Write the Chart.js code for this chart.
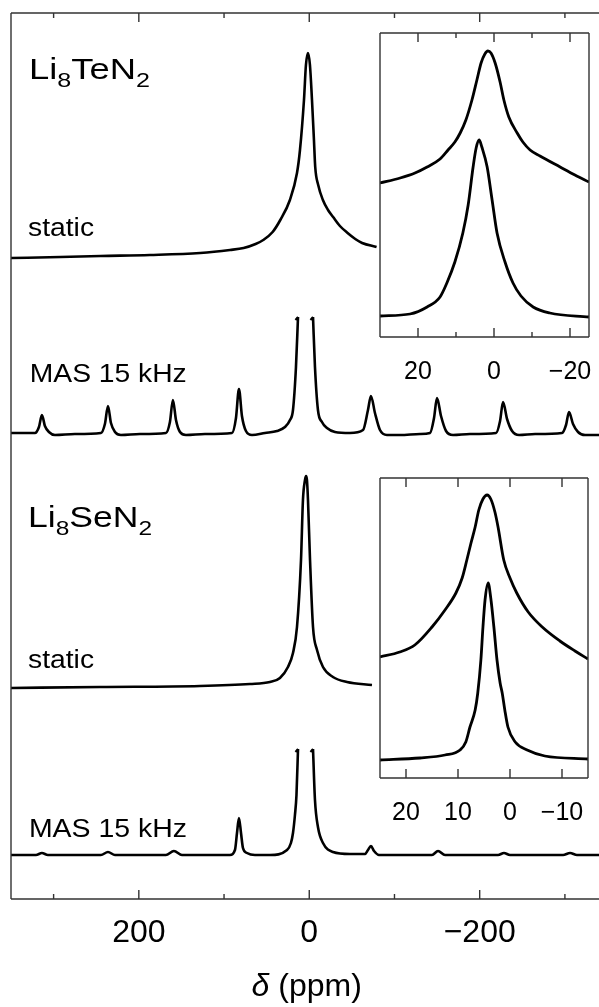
<!DOCTYPE html>
<html>
<head>
<meta charset="utf-8">
<script src="https://cdn.jsdelivr.net/npm/chart.js@4.4.1/dist/chart.umd.min.js"></script>
<style>
  body { margin: 0; background: #fff; }
  #wrap { position: relative; width: 599px; height: 1007px; overflow: hidden; }
  canvas { position: absolute; }
</style>
</head>
<body>
<div id="wrap">
  <canvas id="main" width="599" height="1007" style="left:0;top:0"></canvas>
  <canvas id="insetTe" width="217" height="358" style="left:376px;top:29px"></canvas>
  <canvas id="insetSe" width="216" height="354" style="left:376px;top:474px"></canvas>
</div>
<script>
// ---- data (ppm, intensity above each trace's own baseline) ----
var teStaticPpm = [350, 292, 245, 187, 128, 93, 77, 63, 54, 43, 34, 22.7, 14.4, 10.9, 6.2, 3.9, 1.5, -0.8, -3.2, -5.5, -7, -10.5, -16, -22, -28, -36, -45, -54, -62, -79];
var teStaticInt = [0, 1, 2, 3, 5, 8, 10, 14, 18, 26, 38, 58, 85, 108, 158, 193, 205, 193, 158, 118, 91, 73, 58, 48, 41, 32, 25, 19, 15, 11];

var teMasPpm = [350, 321.9, 317.2, 313.7, 310.2, 305.5, 298.4, 275, 244.5, 239.8, 236.2, 232.7, 228, 221, 198.7,
  168.2, 163.5, 160, 156.4, 151.7, 144.7, 122.4, 90.7, 86, 82.5, 79, 74.3, 67.2, 52, 37.9, 28.5, 22.6, 19.1, 15.6, 13.2,
  4.4,
  -4.4, -6.7, -10.2, -14.9, -20.8, -30.2, -47.8, -63.1, -68.9, -72.4, -77.1, -83, -91.2, -106.5, -130,
  -141.7, -146.4, -149.9, -154.6, -160.5, -168.7, -188.6, -219.2, -223.9, -227.4, -232.1, -238, -246.2, -265,
  -296.6, -301.3, -304.8, -309.5, -315.4, -323.6, -340];
var teMasInt = [0, 0, 6, 18, 7, 1, -2, -1, 0, 9, 27, 10, 1, -2, -1,
  0, 11, 33, 13, 1, -2, -1, 0, 15, 44, 17, 2, -2, 0, 2, 6, 13, 23, 66, 116,
  null,
  116, 66, 23, 11, 5, 1, 0, 3, 23, 37, 20, 3, -2, -2, -1,
  0, 15, 35, 17, 2, -2, -1, 0, 12, 31, 14, 2, -2, -1,
  0, 8, 21, 9, 1, -2, -2];

var seStaticPpm = [350, 245.6, 128.3, 69.6, 46.1, 34.4, 25, 19.1, 14.4, 9.7, 7.4, 5.0, 3.8, 2.7, 1.5, -0.9, -4.4, -9.1, -16.1, -27.8, -44.3, -73.6];
var seStaticInt = [0, 1, 2, 4, 6, 10, 21, 35, 61, 128, 188, 208, 212, 208, 188, 128, 61, 38, 21, 11, 6, 3];

var seMasPpm = [350, 320.7, 313.7, 306.7, 244.5, 236.2, 228, 168.2, 158.8, 149.4, 93.1, 87.2, 84.8, 82.5, 80.1, 77.8, 73.1, 63.7,
  46.1, 26.1, 21.5, 19.1, 16.8, 15, 13.2,
  4.4,
  -4.4, -6.7, -10.2, -16.1, -27.8, -47.8, -65.4, -68.9, -72.4, -76, -81.8, -106.5, -144, -151.1, -159.3,
  -221.5, -228.5, -235.6, -297.8, -306, -314.2, -340];
var seMasInt = [0, 0, 2, 0, 0, 3, 0, 0, 4, 0, 0, 5, 22, 37, 22, 7, 2, 0,
  0, 5, 12, 22, 40, 60, 106,
  null,
  106, 55, 28, 12, 3, 1, 1, 5, 9, 4, 0, 0, 0, 4, 0,
  0, 2, 0, 0, 2, 0, 0];

// break marks on the clipped centre bands [ppm, intensity]
var teBreakLeft = [[13.2, 116], [16.2, 113]];
var teBreakRight = [[-4.4, 116], [-1.4, 113]];
var seBreakLeft = [[13.2, 106], [16.2, 103]];
var seBreakRight = [[-4.4, 106], [-1.4, 103]];

// insets
var teInStaticPpm = [30, 24.7, 20.8, 17.6, 14.2, 12.1, 10.3, 8.9, 7.4, 5.8, 4.5, 3.4, 2.4, 1.6, 0.8, -0.3, -1.6, -2.6, -3.9, -6.1, -7.6, -9.5, -12.1, -17.4, -21.3, -25];
var teInStaticInt = [154, 159, 164, 170, 178, 187, 195, 204, 217, 237, 257, 274, 283, 286, 284, 274, 255, 237, 220, 204, 195, 187, 181, 170, 162, 155];
var teInMasPpm = [30, 22.1, 17.6, 14.2, 12.4, 10.3, 8.2, 6.8, 5.5, 4.7, 3.9, 3.2, 1.8, 0.5, -0.8, -2.9, -5, -7.1, -10.3, -14.7, -25];
var teInMasInt = [21, 23, 30, 40, 54, 75, 104, 132, 170, 189, 197, 190, 170, 137, 104, 75, 54, 41, 30, 24, 20];

var seInStaticPpm = [25, 21.2, 18.3, 15, 12.5, 10.4, 9.2, 8.3, 7.5, 6.7, 6.0, 5.2, 4.4, 3.7, 2.9, 2.3, 1.2, 0, -1.3, -3.5, -6.2, -9.6, -12.5, -15];
var seInStaticInt = [121, 126, 133, 151, 168, 185, 200, 218, 235, 251, 268, 279, 283, 279, 266, 251, 218, 200, 185, 166, 151, 137, 127, 119];
var seInMasPpm = [25, 17.3, 12.5, 9.6, 8.5, 7.7, 6.7, 6.2, 5.6, 5.2, 4.8, 4.2, 3.7, 3.1, 2.5, 1.9, 1.5, 1.0, 0.4, -1, -3.3, -6.7, -15];
var seInMasInt = [18, 20, 23, 28, 36, 51, 68, 85, 118, 151, 178, 195, 180, 151, 118, 95, 85, 68, 51, 36, 28, 22, 19];

// ticks
var mainTickLabels = [200, 0, -200];
var mainMinorTicks = [300, 100, -100, -300];
var teInTickLabels = [20, 0, -20];
var teInMinorTicks = [10, -10];
var seInTickLabels = [20, 10, 0, -10];

// vertical stacking of the four main traces
var offsets = { teStatic: 641, teMas: 466, seStatic: 211, seMas: 44 };

var FONT = "'Liberation Sans', Arial, Helvetica, sans-serif";

function toPoints(ppm, vals, off) {
  return ppm.map(function(p, i) {
    return { x: p, y: vals[i] === null ? null : vals[i] + (off || 0) };
  });
}
function pairPoints(pairs, off) {
  return pairs.map(function(p) { return { x: p[0], y: p[1] + off }; });
}
function minus(v) { return v < 0 ? '\u2212' + Math.abs(v) : String(v); }

function trace(data, w) {
  return { data: data, showLine: true, borderColor: '#000', borderWidth: w || 2.6, pointRadius: 0,
           cubicInterpolationMode: 'monotone', spanGaps: false };
}
function mark(data) {
  return { data: data, showLine: true, borderColor: '#000', borderWidth: 2, pointRadius: 0, tension: 0 };
}

// frame + inward ticks drawn from the x scale
var frameTicks = {
  id: 'frameTicks',
  beforeDatasetsDraw: function(chart, args, o) {
    if (!o.fill) return;
    var a = chart.chartArea, ctx = chart.ctx;
    ctx.save(); ctx.fillStyle = '#fff';
    ctx.fillRect(a.left, a.top, a.right - a.left, a.bottom - a.top);
    ctx.restore();
  },
  afterDraw: function(chart, args, o) {
    var ctx = chart.ctx, a = chart.chartArea, x = chart.scales.x;
    ctx.save();
    ctx.strokeStyle = o.color; ctx.lineWidth = o.width;
    ctx.beginPath();
    ctx.moveTo(a.left, a.top); ctx.lineTo(a.left, a.bottom);
    ctx.moveTo(a.left, a.top); ctx.lineTo(a.right, a.top);
    ctx.moveTo(a.left, a.bottom); ctx.lineTo(a.right, a.bottom);
    if (o.right) { ctx.moveTo(a.right, a.top); ctx.lineTo(a.right, a.bottom); }
    function tick(v, len) {
      var px = x.getPixelForValue(v);
      ctx.moveTo(px, a.top); ctx.lineTo(px, a.top + len);
      ctx.moveTo(px, a.bottom); ctx.lineTo(px, a.bottom - len);
    }
    o.major.forEach(function(v) { tick(v, o.majorLen); });
    o.minor.forEach(function(v) { tick(v, o.minorLen); });
    ctx.stroke();
    ctx.restore();
  }
};

// rich text labels (sub-scripts), placed in data coordinates
function drawRich(ctx, parts, px, py, size, width) {
  var subSize = Math.round(size * 0.68);
  var natural = 0;
  parts.forEach(function(p) {
    ctx.font = (p[1] ? subSize : size) + 'px ' + FONT;
    p.w = ctx.measureText(p[0]).width;
    natural += p.w;
  });
  ctx.save();
  ctx.translate(px, py);
  ctx.scale(width / natural, 1);
  ctx.fillStyle = '#000'; ctx.textAlign = 'left'; ctx.textBaseline = 'alphabetic';
  var cx = 0;
  parts.forEach(function(p) {
    ctx.font = (p[1] ? subSize : size) + 'px ' + FONT;
    ctx.fillText(p[0], cx, p[1] ? size * 0.26 : 0);
    cx += p.w;
  });
  ctx.restore();
}

var textLabels = {
  id: 'textLabels',
  afterDraw: function(chart, args, o) {
    var ctx = chart.ctx, x = chart.scales.x, y = chart.scales.y, a = chart.chartArea;
    o.items.forEach(function(it) {
      drawRich(ctx, it.parts, x.getPixelForValue(it.x), y.getPixelForValue(it.y), it.size, it.width);
    });
    // axis title: italic delta + (ppm)
    ctx.save();
    ctx.fillStyle = '#000'; ctx.textBaseline = 'alphabetic'; ctx.textAlign = 'left';
    ctx.font = 'italic 32px ' + FONT;
    var d = '\u03B4', wd = ctx.measureText(d).width;
    ctx.font = '32px ' + FONT;
    var rest = ' (ppm)', wr = ctx.measureText(rest).width;
    var cx = x.getPixelForValue(3) - (wd + wr) / 2, by = a.bottom + 97;
    ctx.font = 'italic 32px ' + FONT;
    ctx.fillText(d, cx, by);
    ctx.font = '32px ' + FONT;
    ctx.fillText(rest, cx + wd, by);
    ctx.restore();
  }
};

function xAxis(min, max, labels, fontSize, pad, height) {
  return {
    type: 'linear', position: 'bottom', min: min, max: max, reverse: true,
    grid: { display: false, drawTicks: false }, border: { display: false },
    afterBuildTicks: function(s) { s.ticks = labels.map(function(v) { return { value: v }; }); },
    afterFit: function(s) { s.height = height; s.paddingLeft = 0; s.paddingRight = 0; },
    ticks: { autoSkip: false, maxRotation: 0, padding: pad, color: '#000',
             font: { family: FONT, size: fontSize },
             callback: function(v) { return minus(v); } }
  };
}

var common = { responsive: false, animation: false, events: [],
  plugins: { legend: { display: false }, tooltip: { enabled: false } } };

// ---- main chart ----
new Chart(document.getElementById('main'), {
  type: 'scatter',
  data: { datasets: [
    trace(toPoints(teStaticPpm, teStaticInt, offsets.teStatic)),
    trace(toPoints(teMasPpm, teMasInt, offsets.teMas)),
    trace(toPoints(seStaticPpm, seStaticInt, offsets.seStatic)),
    trace(toPoints(seMasPpm, seMasInt, offsets.seMas)),
    mark(pairPoints(teBreakLeft, offsets.teMas)),
    mark(pairPoints(teBreakRight, offsets.teMas)),
    mark(pairPoints(seBreakLeft, offsets.seMas)),
    mark(pairPoints(seBreakRight, offsets.seMas))
  ] },
  options: Object.assign({}, common, {
    layout: { padding: { left: 11, top: 13, right: 0, bottom: 0 } },
    scales: {
      x: xAxis(-340, 350, mainTickLabels, 32, 15, 108),
      y: { display: false, min: 0, max: 886 }
    },
    plugins: Object.assign({}, common.plugins, {
      frameTicks: { color: '#333', width: 1.4, major: mainTickLabels, minor: mainMinorTicks, majorLen: 9, minorLen: 5 },
      textLabels: { items: [
        { parts: [['Li'], ['8', 1], ['TeN'], ['2', 1]], x: 329, y: 820, size: 29, width: 121 },
        { parts: [['static']], x: 330, y: 663, size: 25, width: 66 },
        { parts: [['MAS 15 kHz']], x: 328, y: 517, size: 25, width: 157 },
        { parts: [['Li'], ['8', 1], ['SeN'], ['2', 1]], x: 330, y: 372, size: 29, width: 124 },
        { parts: [['static']], x: 330, y: 231, size: 25, width: 66 },
        { parts: [['MAS 15 kHz']], x: 329, y: 62, size: 25, width: 158 }
      ] }
    })
  }),
  plugins: [frameTicks, textLabels]
});

// ---- inset: Li8TeN2 ----
new Chart(document.getElementById('insetTe'), {
  type: 'scatter',
  data: { datasets: [
    trace(toPoints(teInStaticPpm, teInStaticInt), 2.8),
    trace(toPoints(teInMasPpm, teInMasInt), 2.8)
  ] },
  options: Object.assign({}, common, {
    layout: { padding: { left: 4, top: 4, right: 4, bottom: 0 } },
    scales: {
      x: xAxis(-25, 30, teInTickLabels, 25, 20, 50),
      y: { display: false, min: 0, max: 304 }
    },
    plugins: Object.assign({}, common.plugins, {
      frameTicks: { fill: true, right: true, color: '#333', width: 1.4, major: teInTickLabels, minor: teInMinorTicks, majorLen: 9, minorLen: 5 }
    })
  }),
  plugins: [frameTicks]
});

// ---- inset: Li8SeN2 ----
new Chart(document.getElementById('insetSe'), {
  type: 'scatter',
  data: { datasets: [
    trace(toPoints(seInStaticPpm, seInStaticInt), 2.8),
    trace(toPoints(seInMasPpm, seInMasInt), 2.8)
  ] },
  options: Object.assign({}, common, {
    layout: { padding: { left: 4, top: 4, right: 4, bottom: 0 } },
    scales: {
      x: xAxis(-15, 25, seInTickLabels, 25, 20, 50),
      y: { display: false, min: 0, max: 300 }
    },
    plugins: Object.assign({}, common.plugins, {
      frameTicks: { fill: true, right: true, color: '#333', width: 1.4, major: seInTickLabels, minor: [], majorLen: 9, minorLen: 5 }
    })
  }),
  plugins: [frameTicks]
});
</script>
</body>
</html>
